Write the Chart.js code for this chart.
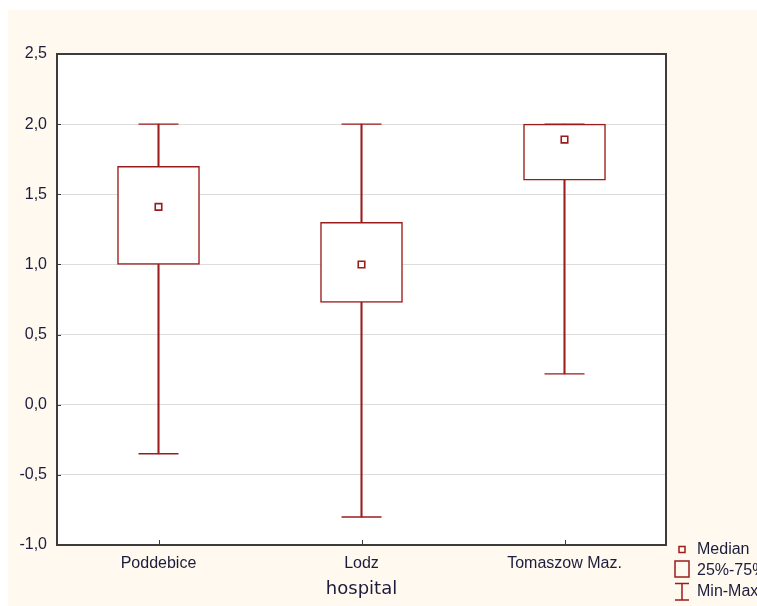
<!DOCTYPE html>
<html>
<head>
<meta charset="utf-8">
<script src="https://cdn.jsdelivr.net/npm/chart.js@4/dist/chart.umd.min.js"></script>
<style>
    body { margin: 0; background: #ffffff; }
    #wrap { position: absolute; left: 8px; top: 10px; width: 749px; height: 596px; background: #fff9ef; }
</style>
</head>
<body>
<div id="wrap"><canvas id="boxChart" width="749" height="596"></canvas></div>
<script>
const hospitals = ['Poddebice', 'Lodz', 'Tomaszow Maz.'];
const minValues = [-0.35, -0.80, 0.22];
const q1Values = [1.00, 0.73, 1.60];
const medianValues = [1.41, 1.00, 1.89];
const q3Values = [1.70, 1.30, 2.00];
const maxValues = [2.00, 2.00, 2.00];
const yTicks = [-1.0, -0.5, 0.0, 0.5, 1.0, 1.5, 2.0, 2.5];

const red = '#9c1b1b';
const textColor = '#1c1c3c';

Chart.defaults.font.family = "'Liberation Sans', Arial, sans-serif";
Chart.defaults.font.size = 16;
Chart.defaults.color = textColor;

// white plot area
const plotBackground = {
    id: 'plotBackground',
    beforeDraw: function (chart) {
        const area = chart.chartArea;
        chart.ctx.save();
        chart.ctx.fillStyle = '#ffffff';
        chart.ctx.fillRect(area.left, area.top, area.right - area.left, area.bottom - area.top);
        chart.ctx.restore();
    }
};

// frame, inward ticks and legend on the right
const framePlugin = {
    id: 'frame',
    afterDraw: function (chart) {
        const ctx = chart.ctx;
        const area = chart.chartArea;
        const x = chart.scales.x;
        const y = chart.scales.y;
        ctx.save();
        ctx.strokeStyle = '#3a3a3a';
        ctx.lineWidth = 1;
        yTicks.forEach(function (v) {
            const py = Math.round(y.getPixelForValue(v)) + 0.5;
            ctx.beginPath();
            ctx.moveTo(area.left, py);
            ctx.lineTo(area.left + 4, py);
            ctx.stroke();
        });
        hospitals.forEach(function (h, i) {
            const px = Math.round(x.getPixelForValue(i)) + 0.5;
            ctx.beginPath();
            ctx.moveTo(px, area.bottom);
            ctx.lineTo(px, area.bottom - 5);
            ctx.stroke();
        });
        ctx.lineWidth = 2;
        ctx.strokeStyle = '#3c3c3c';
        ctx.strokeRect(area.left, area.top, area.right - area.left, area.bottom - area.top);

        // legend
        const lx = area.right + 16;
        ctx.strokeStyle = red;
        ctx.lineWidth = 1.5;
        ctx.strokeRect(lx - 3, 536.5, 6, 6);
        ctx.strokeRect(lx - 7, 551, 14, 16);
        ctx.beginPath();
        ctx.moveTo(lx - 7, 573.5); ctx.lineTo(lx + 7, 573.5);
        ctx.moveTo(lx, 573.5); ctx.lineTo(lx, 590);
        ctx.moveTo(lx - 7, 590); ctx.lineTo(lx + 7, 590);
        ctx.stroke();
        ctx.fillStyle = textColor;
        ctx.font = "16px 'Liberation Sans', Arial, sans-serif";
        ctx.textBaseline = 'middle';
        ctx.textAlign = 'left';
        ctx.fillText('Median', lx + 15, 539.5);
        ctx.fillText('25%-75%', lx + 15, 561);
        ctx.fillText('Min-Max', lx + 15, 582);
        ctx.restore();
    }
};

const ctx = document.getElementById('boxChart').getContext('2d');
new Chart(ctx, {
    type: 'bar',
    data: {
        labels: hospitals,
        datasets: [
            {
                label: 'Median',
                type: 'line',
                data: medianValues,
                showLine: false,
                pointStyle: 'rect',
                pointRadius: 4.6,
                pointBorderWidth: 1.6,
                pointBorderColor: red,
                pointBackgroundColor: '#ffffff',
                order: 0
            },
            {
                label: 'Max cap',
                type: 'line',
                data: maxValues,
                showLine: false,
                pointStyle: 'line',
                pointRadius: 20,
                pointBorderWidth: 1.4,
                pointBorderColor: red,
                order: 1
            },
            {
                label: 'Min cap',
                type: 'line',
                data: minValues,
                showLine: false,
                pointStyle: 'line',
                pointRadius: 20,
                pointBorderWidth: 1.4,
                pointBorderColor: red,
                order: 1
            },
            {
                label: '25%-75%',
                data: hospitals.map(function (h, i) { return [q1Values[i], q3Values[i]]; }),
                backgroundColor: '#ffffff',
                borderColor: red,
                borderWidth: 1.5,
                borderSkipped: false,
                barThickness: 82,
                grouped: false,
                order: 2
            },
            {
                label: 'Lower whisker',
                data: hospitals.map(function (h, i) { return [minValues[i], q1Values[i]]; }),
                backgroundColor: red,
                borderWidth: 0,
                barThickness: 1.4,
                grouped: false,
                order: 3
            },
            {
                label: 'Upper whisker',
                data: hospitals.map(function (h, i) { return [q3Values[i], maxValues[i]]; }),
                backgroundColor: red,
                borderWidth: 0,
                barThickness: 1.4,
                grouped: false,
                order: 3
            }
        ]
    },
    options: {
        responsive: false,
        animation: false,
        layout: { padding: { top: 44, right: 91, left: 0, bottom: 0 } },
        plugins: {
            legend: { display: false },
            tooltip: { enabled: false }
        },
        scales: {
            x: {
                grid: { display: false, drawTicks: false },
                border: { display: false },
                ticks: { padding: 9, color: textColor },
                title: {
                    display: true,
                    text: 'hospital',
                    font: { family: "'DejaVu Sans', sans-serif", size: 18 },
                    color: textColor,
                    padding: { top: 0, bottom: 6 }
                },
                afterFit: function (scale) { scale.height = 61; }
            },
            y: {
                min: -1,
                max: 2.5,
                afterBuildTicks: function (scale) {
                    scale.ticks = yTicks.map(function (v) { return { value: v }; });
                },
                grid: { color: '#dcdcdc', lineWidth: 1, drawTicks: false },
                border: { display: false },
                ticks: {
                    padding: 10,
                    color: textColor,
                    callback: function (value) { return value.toFixed(1).replace('.', ','); }
                },
                afterFit: function (scale) { scale.width = 49; }
            }
        }
    },
    plugins: [plotBackground, framePlugin]
});
</script>
</body>
</html>
